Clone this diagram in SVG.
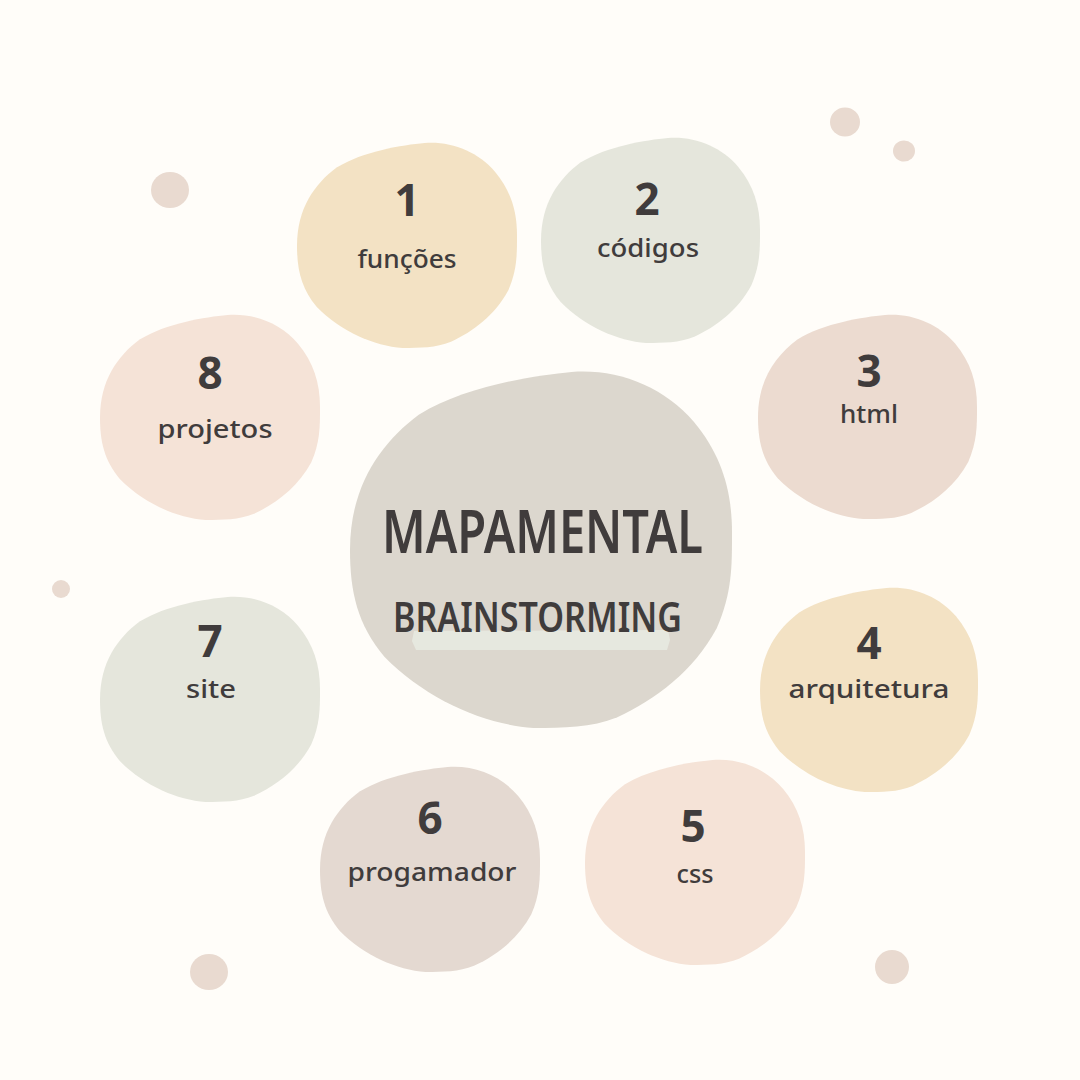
<svg xmlns="http://www.w3.org/2000/svg" xmlns:xlink="http://www.w3.org/1999/xlink" width="1080" height="1080" viewBox="0 0 1080 1080">
  <style>
    .num { font-family: "Noto Sans", "DejaVu Sans", sans-serif; font-weight: 700; font-size: 44px; fill: #403c3c; text-anchor: middle; }
    .lbl { font-family: "Noto Sans", "DejaVu Sans", sans-serif; font-weight: 500; font-size: 25px; fill: #403c3c; text-anchor: middle; }
    .title { font-family: "Noto Sans", "DejaVu Sans", sans-serif; font-weight: 600; fill: #403c3c; }
    .dot { fill: #e9dad0; }
  </style>
  <defs>
    <path id="blob" d="M 0 50 C 0 32 8 20 18 12 C 30 4 48 1 58 0 C 70 -1 82 4 90 14 C 97 23 100 33 100 45 C 100 55 100 62 96 72 C 90 84 80 92 70 97 C 63 100 56 100 48 100 C 35 99 20 92 9 80 C 2 71 0 62 0 50 Z"/>
  </defs>
  <rect x="0" y="0" width="1080" height="1080" fill="#fffdf9"/>

  <g id="decor">
    <ellipse class="dot" cx="845" cy="122" rx="15" ry="14.5"/>
    <ellipse class="dot" cx="904" cy="151" rx="11" ry="10.5"/>
    <ellipse class="dot" cx="170" cy="190" rx="19" ry="18"/>
    <ellipse class="dot" cx="61" cy="589" rx="9" ry="9"/>
    <ellipse class="dot" cx="209" cy="972" rx="19" ry="18"/>
    <ellipse class="dot" cx="892" cy="967" rx="17" ry="17"/>
  </g>

  <g id="connectors"></g>

  <g id="center">
    <use xlink:href="#blob" href="#blob" transform="translate(350,372) scale(3.82,3.56)" fill="#dcd7ce"/>
    <path d="M 414 631 L 668 630 L 670 640 L 667 650 L 416 650 L 412 641 Z" fill="#e6e8df"/>
    <text class="title" x="382" y="553" font-size="60" textLength="321" lengthAdjust="spacingAndGlyphs">MAPAMENTAL</text>
    <text class="title" x="393" y="632" font-size="41" textLength="289" lengthAdjust="spacingAndGlyphs">BRAINSTORMING</text>
  </g>

  <g id="node1">
    <use xlink:href="#blob" href="#blob" transform="translate(297,143) scale(2.2,2.05)" fill="#f3e2c4"/>
    <text class="num" x="407" y="216">1</text>
    <text class="lbl" x="407" y="268" textLength="99" lengthAdjust="spacingAndGlyphs">funções</text>
  </g>

  <g id="node2">
    <use xlink:href="#blob" href="#blob" transform="translate(541,138) scale(2.19,2.05)" fill="#e5e6dc"/>
    <text class="num" x="647" y="215">2</text>
    <text class="lbl" x="648" y="257" textLength="102" lengthAdjust="spacingAndGlyphs">códigos</text>
  </g>

  <g id="node3">
    <use xlink:href="#blob" href="#blob" transform="translate(758,315) scale(2.19,2.04)" fill="#ecdbd0"/>
    <text class="num" x="869" y="387">3</text>
    <text class="lbl" x="869" y="423" font-size="21" textLength="58" lengthAdjust="spacingAndGlyphs">html</text>
  </g>

  <g id="node4">
    <use xlink:href="#blob" href="#blob" transform="translate(760,588) scale(2.18,2.04)" fill="#f3e2c4"/>
    <text class="num" x="869" y="659">4</text>
    <text class="lbl" x="869" y="698" font-size="23" textLength="161" lengthAdjust="spacingAndGlyphs">arquitetura</text>
  </g>

  <g id="node5">
    <use xlink:href="#blob" href="#blob" transform="translate(585,760) scale(2.2,2.05)" fill="#f5e3d7"/>
    <text class="num" x="693" y="842">5</text>
    <text class="lbl" x="695" y="883" textLength="37" lengthAdjust="spacingAndGlyphs">css</text>
  </g>

  <g id="node6">
    <use xlink:href="#blob" href="#blob" transform="translate(320,767) scale(2.2,2.05)" fill="#e4d9d1"/>
    <text class="num" x="430" y="834">6</text>
    <text class="lbl" x="432" y="881" textLength="169" lengthAdjust="spacingAndGlyphs">progamador</text>
  </g>

  <g id="node7">
    <use xlink:href="#blob" href="#blob" transform="translate(100,597) scale(2.2,2.05)" fill="#e5e6dc"/>
    <text class="num" x="210" y="657">7</text>
    <text class="lbl" x="211" y="698" textLength="50" lengthAdjust="spacingAndGlyphs">site</text>
  </g>

  <g id="node8">
    <use xlink:href="#blob" href="#blob" transform="translate(100,315) scale(2.2,2.05)" fill="#f5e3d7"/>
    <text class="num" x="210" y="389">8</text>
    <text class="lbl" x="215" y="438" textLength="115" lengthAdjust="spacingAndGlyphs">projetos</text>
  </g>
</svg>
